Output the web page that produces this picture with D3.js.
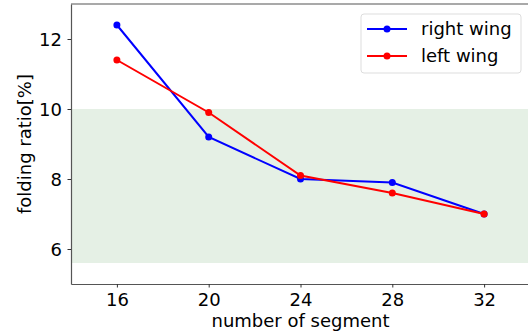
<!DOCTYPE html>
<html>
<head>
<meta charset="utf-8">
<script src="https://cdn.jsdelivr.net/npm/d3@7"></script>
<style>
  body { margin: 0; background: #fff; }
  text { font-family: "DejaVu Sans", sans-serif; }
</style>
</head>
<body>
<div id="chart"></div>
<script>
const segments = [16, 20, 24, 28, 32];
const rightWing = [12.4, 9.2, 8.0, 7.9, 7.0];
const leftWing = [11.4, 9.9, 8.1, 7.6, 7.0];
const band = [5.6, 10];
const yTicks = [6, 8, 10, 12];

const series = [
    { name: "right wing", color: "#0000ff", values: rightWing },
    { name: "left wing", color: "#ff0000", values: leftWing }
];

const width = 528, height = 336,
      margin = {top: 4, left: 71, bottom: 52},
      fontSize = 18;

const svg = d3.select("#chart").append("svg")
    .attr("width", width)
    .attr("height", height);

const x = d3.scaleLinear().domain([14, 34]).range([margin.left, 530]);
const y = d3.scaleLinear().domain([5, 13]).range([height - margin.bottom, margin.top]);

// shaded band
svg.append("rect")
    .attr("x", x(14))
    .attr("width", x(34) - x(14))
    .attr("y", y(band[1]))
    .attr("height", y(band[0]) - y(band[1]))
    .attr("fill", "#e5f0e5");

const xAxis = svg.append("g")
    .attr("transform", `translate(0,${y(5)})`)
    .call(d3.axisBottom(x).tickValues(segments).tickSize(3.5).tickSizeOuter(0).tickPadding(5.5));
const yAxis = svg.append("g")
    .attr("transform", `translate(${x(14)},0)`)
    .call(d3.axisLeft(y).tickValues(yTicks).tickSize(3.5).tickSizeOuter(0).tickPadding(5.5));

[xAxis, yAxis].forEach(function(g) {
    g.selectAll("text").attr("font-size", fontSize).attr("fill", "#000")
        .attr("font-family", "DejaVu Sans");
    g.selectAll("line").attr("stroke", "#333");
    g.select(".domain").attr("stroke", "#555").attr("stroke-width", 1.2);
});
yAxis.selectAll("text").attr("dy", "0.36em");

// top spine
svg.append("line")
    .attr("x1", x(14)).attr("x2", x(34))
    .attr("y1", y(13)).attr("y2", y(13))
    .attr("stroke", "#555").attr("stroke-width", 1.2);

const line = d3.line()
    .x(function(d, i) { return x(segments[i]); })
    .y(function(d) { return y(d); });

series.forEach(function(s) {
    svg.append("path")
        .datum(s.values)
        .attr("fill", "none")
        .attr("stroke", s.color)
        .attr("stroke-width", 2)
        .attr("d", line);
    svg.selectAll(null)
        .data(s.values)
        .join("circle")
        .attr("cx", function(d, i) { return x(segments[i]); })
        .attr("cy", function(d) { return y(d); })
        .attr("r", 3.5)
        .attr("fill", s.color);
});

// axis labels
svg.append("text")
    .attr("x", (x(14) + x(34)) / 2)
    .attr("y", 327)
    .attr("text-anchor", "middle")
    .attr("font-size", fontSize)
    .text("number of segment");
svg.append("text")
    .attr("transform", `translate(31,${(y(5) + y(13)) / 2}) rotate(-90)`)
    .attr("text-anchor", "middle")
    .attr("font-size", fontSize)
    .text("folding ratio[%]");

// legend
const legend = svg.append("g").attr("transform", "translate(361,14)");
legend.append("rect")
    .attr("width", 160).attr("height", 59)
    .attr("rx", 3)
    .attr("fill", "#fff").attr("fill-opacity", 0.8)
    .attr("stroke", "#ddd");
series.forEach(function(s, i) {
    const g = legend.append("g").attr("transform", `translate(0,${15 + i * 27})`);
    g.append("line")
        .attr("x1", 6).attr("x2", 46)
        .attr("stroke", s.color).attr("stroke-width", 2);
    g.append("circle").attr("cx", 26).attr("r", 3.5).attr("fill", s.color);
    g.append("text")
        .attr("x", 60).attr("dy", "0.35em")
        .attr("font-size", fontSize)
        .text(s.name);
});
</script>
</body>
</html>
